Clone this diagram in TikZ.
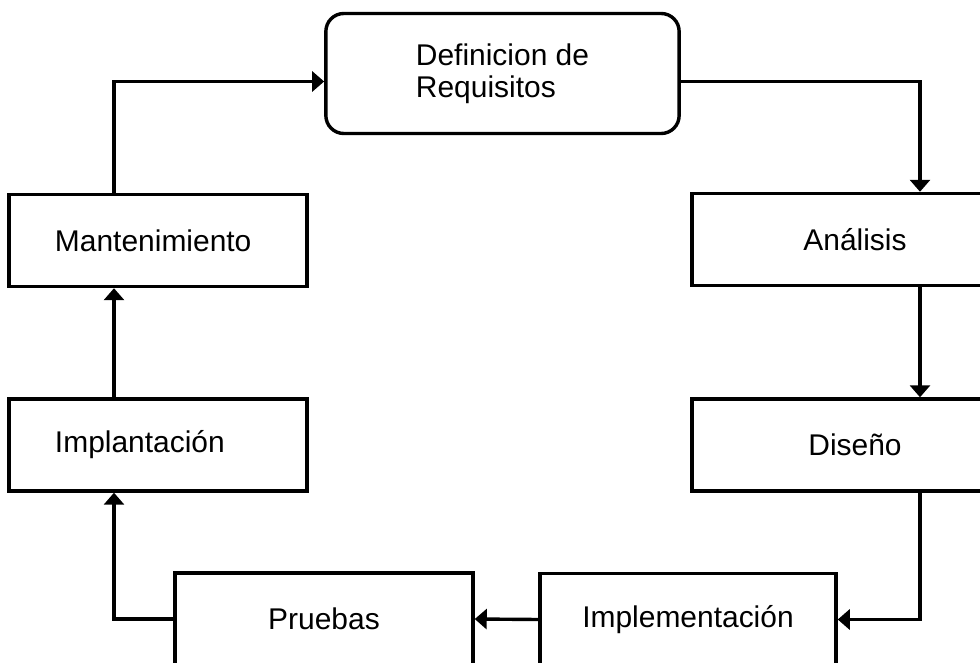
\documentclass[tikz,border=0pt]{standalone}
\usepackage{fontspec}
\setmainfont{Liberation Sans}
\usepackage{tikz}
\usetikzlibrary{positioning}
\usetikzlibrary{arrows.meta}
\usetikzlibrary{calc}

\begin{document}
\begin{tikzpicture}[x=0.025cm, y=-0.025cm,
	font=\fontsize{21.3pt}{22.5pt}\selectfont,
	stage/.style = {draw, line width=0.085cm, inner sep=0pt, minimum height=2.3cm},
	leftstage/.style = {stage, inner xsep=1.15cm, text width=5.15cm, align=left},
	flow/.style = {line width=0.085cm, -{Triangle[length=0.3cm, width=0.5cm]}}]
\useasboundingbox (0,0) rectangle (980,663);
\clip (0,0) rectangle (980,663);

\node[stage, rounded corners=0.45cm, minimum width=8.83cm, minimum height=3cm, align=left] (def) at (502.5,73.5) {Definicion de\\Requisitos};
\node[stage, minimum width=8.15cm] (ana) at (855,239.5) {Análisis};
\node[stage, minimum width=8.15cm] (dis) at (855,445) {Diseño};
\node[stage, minimum width=7.4cm] (impl) at (688,619.5) {Implementación};
\node[stage, minimum width=7.45cm] (pru) at (324,619) {Pruebas};
\node[leftstage] (impt) at (158,445) {Implantación};
\node[leftstage] (man) at (158,240.5) {Mantenimiento};

% lineas de las columnas
\coordinate (rline) at (920,0);
\coordinate (lline) at (114,0);

\draw[flow] ([yshift=-0.2cm]def.east) -| (rline |- ana.north);
\draw[flow] (rline |- ana.south) -- (rline |- dis.north);
\draw[flow] (rline |- dis.south) |- (impl.east);
\draw[flow] (impl.west) -- (pru.east);
\draw[flow] (pru.west) -| (lline |- impt.south);
\draw[flow] (lline |- impt.north) -- (lline |- man.south);
\draw[flow] (lline |- man.north) |- ([yshift=-0.2cm]def.west);
\end{tikzpicture}
\end{document}
